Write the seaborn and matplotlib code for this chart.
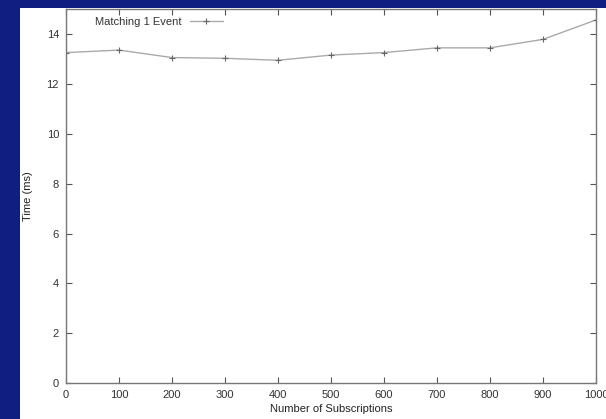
import pandas as pd
import matplotlib.pyplot as plt
import matplotlib.patches as mpatches
import seaborn as sns

# données
subscriptions = [0, 100, 200, 300, 400, 500, 600, 700, 800, 900, 1000]
time_ms = [13.27, 13.37, 13.07, 13.04, 12.96, 13.17, 13.27, 13.46, 13.46, 13.8, 14.58]
series_name = "Matching 1 Event"

data = pd.DataFrame({"Subscriptions": subscriptions, "Time": time_ms})

sns.set_style("ticks")
plt.rcParams['font.family'] = ['Liberation Sans', 'DejaVu Sans']
plt.rcParams['font.size'] = 8

fig = plt.figure(figsize=(6.06, 4.19), dpi=100)
fig.patch.set_facecolor('#0f1e80')
# fond blanc de la diapositive
fig.patches.append(mpatches.Rectangle((20 / 606, 0), 1, 1 - 8 / 419, transform=fig.transFigure,
                                      facecolor='white', edgecolor='none', zorder=-5))

ax = fig.add_axes([66 / 606, 1 - 383 / 419, 530 / 606, (383 - 9.5) / 419])
ax.set_facecolor('white')

sns.lineplot(data=data, x="Subscriptions", y="Time", ax=ax, color='#aaaaaa', linewidth=1.0,
             marker='+', markersize=5, markeredgecolor='#666666', markeredgewidth=0.8,
             label=series_name)

ax.set_xlim(0, 1000)
ax.set_ylim(0, 15)
ax.set_xticks(range(0, 1001, 100))
ax.set_yticks(range(0, 15, 2))
ax.tick_params(direction='in', top=True, right=True, length=4, width=0.8,
               colors='#555555', labelcolor='#333333', labelsize=8, pad=5)
for s in ax.spines.values():
    s.set_color('#777777')
    s.set_linewidth(1.0)

ax.set_xlabel("Number of Subscriptions", fontsize=8, color='#222222', labelpad=3)
ax.set_ylabel("Time (ms)", fontsize=8, color='#222222', labelpad=10)

leg = ax.legend(loc='upper left', bbox_to_anchor=(0.04, 1.0), frameon=False, markerfirst=False,
                handlelength=2.9, fontsize=8, borderaxespad=0.3)
for t in leg.get_texts():
    t.set_color('#333333')

fig.savefig("out.png", dpi=100, facecolor=fig.get_facecolor())
